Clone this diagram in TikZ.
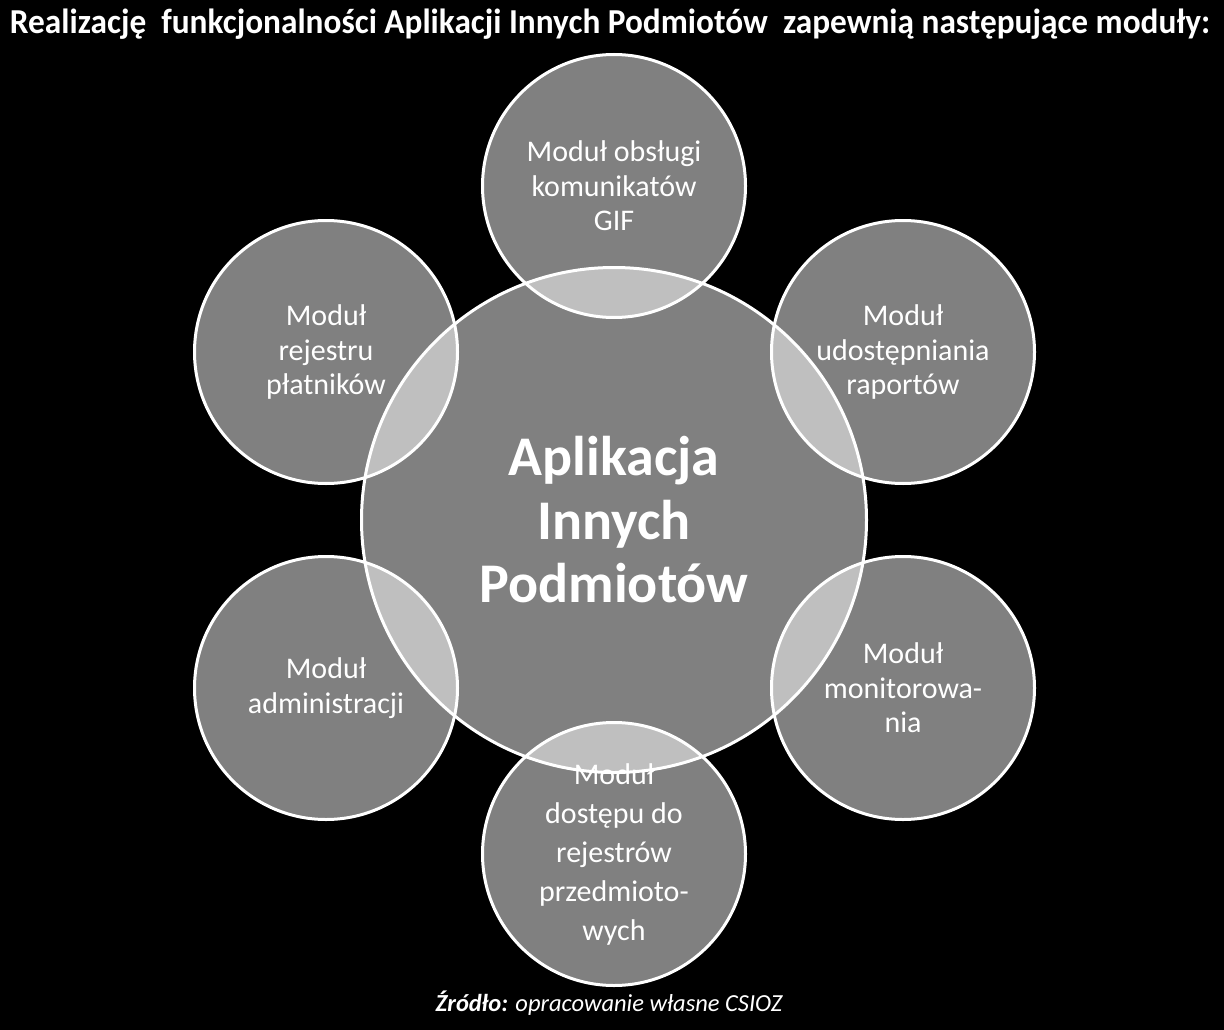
\documentclass[tikz,border=0pt]{standalone}
\usepackage{fontspec}
\setmainfont{Carlito}
\usepackage{graphicx}
\begin{document}
\begin{tikzpicture}[x=1pt,y=-1pt,
  disc/.style={circle, inner sep=0pt, outer sep=0pt, fill=white, fill opacity=0.5,
    draw=white, draw opacity=1, line width=3pt, text=white, text opacity=1, align=center},
  hub/.style={disc, minimum size=505pt, font=\fontsize{56}{63.5}\selectfont\bfseries},
  sat/.style={disc, minimum size=263pt, font=\fontsize{30}{34.5}\selectfont}]
\fill[black] (0,0) rectangle (1224,1030);
\useasboundingbox (0,0) rectangle (1224,1030);
\node[anchor=base, text=white, font=\fontsize{35}{40}\selectfont\bfseries] (title) at (610,34)
  {\resizebox{1200pt}{\height}{Realizację\ \ funkcjonalności\ Aplikacji\ Innych\ Podmiotów\ \ zapewnią następujące\ moduły:}};
\node[hub] (hub) at (614,520) {Aplikacja\\Innych\\Podmiotów};
\node[sat] (top) at (614,186) {Moduł obsługi\\komunikatów\\GIF};
\node[sat] (tr) at (903,352) {Moduł\\udostępniania\\raportów};
\node[sat] (br) at (903,688) {Moduł\\monitorowa-\\nia};
\node[sat, font=\fontsize{30}{39}\selectfont] (bot) at (614,854) {Moduł\\dostępu do\\rejestrów\\przedmioto-\\wych};
\node[sat] (bl) at (326,688) {Moduł\\administracji};
\node[sat] (tl) at (326,352) {Moduł\\rejestru\\płatników};
\node[anchor=base, text=white, font=\fontsize{24.5}{28}\selectfont\itshape] (src) at (609,1011)
  {\textbf{Źródło:} opracowanie własne CSIOZ};
\end{tikzpicture}
\end{document}
